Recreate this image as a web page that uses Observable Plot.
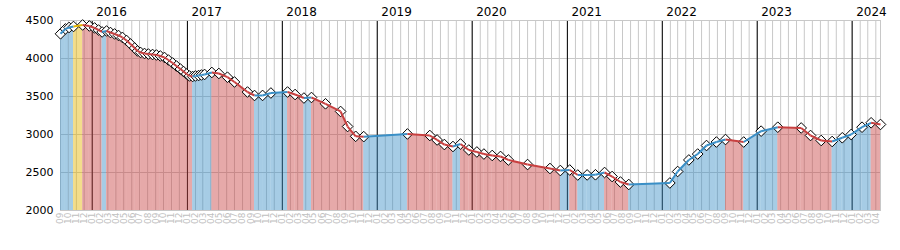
<!DOCTYPE html>
<html><head><meta charset="utf-8">
<script src="https://cdn.jsdelivr.net/npm/d3@7"></script>
<script src="https://cdn.jsdelivr.net/npm/@observablehq/plot@0.6"></script>
<style>body{margin:0;background:#fff}</style>
</head><body><div id="chart"></div>
<script>
const dates = ["2015-09-01","2015-09-20","2015-10-04","2015-10-21","2015-11-25","2015-12-21","2016-01-10","2016-01-25","2016-02-08","2016-02-25",
"2016-03-11","2016-03-27","2016-04-11","2016-04-26","2016-05-12","2016-05-27","2016-06-12","2016-06-23","2016-07-05","2016-07-20",
"2016-08-04","2016-08-20","2016-09-04","2016-09-19","2016-10-05","2016-10-20","2016-11-05","2016-11-20","2016-12-05","2016-12-17",
"2016-12-29","2017-01-09","2017-01-21","2017-02-01","2017-02-13","2017-02-24","2017-03-08","2017-04-05","2017-05-02","2017-06-04",
"2017-07-01","2017-08-20","2017-09-16","2017-10-17","2017-11-18","2018-01-21","2018-02-19","2018-03-25","2018-04-23","2018-06-16",
"2018-08-13","2018-09-09","2018-10-10","2018-11-10","2019-04-27","2019-07-22","2019-08-19","2019-09-16","2019-10-19","2019-11-17",
"2019-12-19","2020-01-19","2020-02-15","2020-03-18","2020-04-19","2020-05-19","2020-08-01","2020-10-26","2020-12-05","2021-01-10",
"2021-02-10","2021-03-18","2021-04-19","2021-05-24","2021-06-22","2021-07-24","2021-08-25","2022-01-30","2022-03-01","2022-04-13",
"2022-05-17","2022-06-20","2022-07-28","2022-09-01","2022-11-10","2023-01-16","2023-03-21","2023-06-19","2023-07-25","2023-09-04",
"2023-10-16","2023-11-24","2023-12-28","2024-02-08","2024-03-14","2024-04-19"];
const values = [4325,4389,4408,4421,4441,4428,4402,4375,4349,4362,
4342,4323,4303,4277,4237,4191,4138,4099,4079,4066,
4059,4053,4046,4033,4013,3980,3941,3901,3862,3829,
3796,3770,3763,3770,3776,3783,3790,3816,3803,3754,
3691,3559,3513,3514,3546,3559,3526,3480,3487,3404,
3303,3105,2976,2972,3007,2987,2928,2868,2842,2875,
2796,2770,2743,2724,2711,2665,2605,2553,2526,2533,
2467,2468,2470,2500,2447,2375,2342,2362,2513,2665,
2743,2855,2901,2934,2901,3044,3096,3086,2987,2921,
2908,2957,3000,3096,3154,3132];
// trend of the segment that starts at each point: U = up, D = down, F = flat
const trend = ["U","U","U","F","D","D","D","D","U","D",
"D","D","D","D","D","D","D","D","D","D",
"D","D","D","D","D","D","D","D","D","D",
"D","D","U","U","U","U","U","D","D","D",
"D","D","U","U","U","D","D","U","D","D",
"D","D","D","U","D","D","D","D","U","D",
"D","D","D","D","D","D","D","D","U","D",
"U","U","U","D","D","D","U","U","U","U",
"U","U","U","D","U","U","D","D","D","D",
"U","U","U","U","D"];
const trendKeys = ["U","D","F"];
const trendColors = ["#3a8fc6","#c84040","#e4b400"];
const yTicks = [2000,2500,3000,3500,4000,4500];
const years = [2016,2017,2018,2019,2020,2021,2022,2023,2024];
const domainStart = "2015-09-01", domainEnd = "2024-04-19";

const parse = d3.utcParse("%Y-%m-%d");
const points = dates.map((d,i)=>({date: parse(d), value: values[i]}));
const segments = trend.map((t,i)=>({x1: points[i].date, y1: points[i].value, x2: points[i+1].date, y2: points[i+1].value, trend: t}));
const areaRows = segments.flatMap((s,i)=>[
  {date: s.x1, value: s.y1, seg: i, trend: s.trend},
  {date: s.x2, value: s.y2, seg: i, trend: s.trend}]);
const start = parse(domainStart), end = parse(domainEnd);
const months = d3.utcMonth.range(start, end);
const yearDates = years.map(y => new Date(Date.UTC(y,0,1)));
const fmtMonth = d3.utcFormat("%m");

const chart = Plot.plot({
  width: 900, height: 250,
  marginLeft: 60, marginRight: 20, marginTop: 20, marginBottom: 40,
  x: {type: "utc", domain: [start, end], axis: null, label: null},
  y: {domain: [2000, 4500], label: null},
  color: {domain: trendKeys, range: trendColors},
  style: {fontFamily: "DejaVu Sans", fontSize: "11px", color: "#000", background: "#fff"},
  marks: [
    Plot.ruleX(months, {stroke: "#c8c8c8"}),
    Plot.ruleY(yTicks, {stroke: "#c8c8c8"}),
    Plot.ruleX(yearDates, {stroke: "#000"}),
    Plot.frame({stroke: "#c8c8c8"}),
    Plot.areaY(areaRows, {x: "date", y1: 2000, y2: "value", z: "seg", fill: "trend", fillOpacity: 0.45}),
    Plot.dot(points, {x: "date", y: "value", symbol: "diamond2", r: 4.8, stroke: "#000", fill: "#fff", strokeWidth: 1}),
    Plot.link(segments, {x1: "x1", y1: "y1", x2: "x2", y2: "y2", stroke: "trend", strokeWidth: 2}),
    Plot.axisY({ticks: yTicks, tickFormat: d => String(d), tickSize: 0, tickPadding: 7, fontSize: 11, label: null}),
    Plot.text(months, {x: d => d, frameAnchor: "bottom", lineAnchor: "middle", text: d => fmtMonth(d), rotate: -90, textAnchor: "end", dy: 2, fill: "#c0c0c0", fontSize: 9}),
    Plot.text(yearDates, {x: d => d, frameAnchor: "top", lineAnchor: "middle", text: d => String(d.getUTCFullYear()), textAnchor: "start", dx: 4, dy: -8, fontSize: 12, fill: "#000"})
  ]
});
document.getElementById("chart").appendChild(chart);
</script>
</body></html>
